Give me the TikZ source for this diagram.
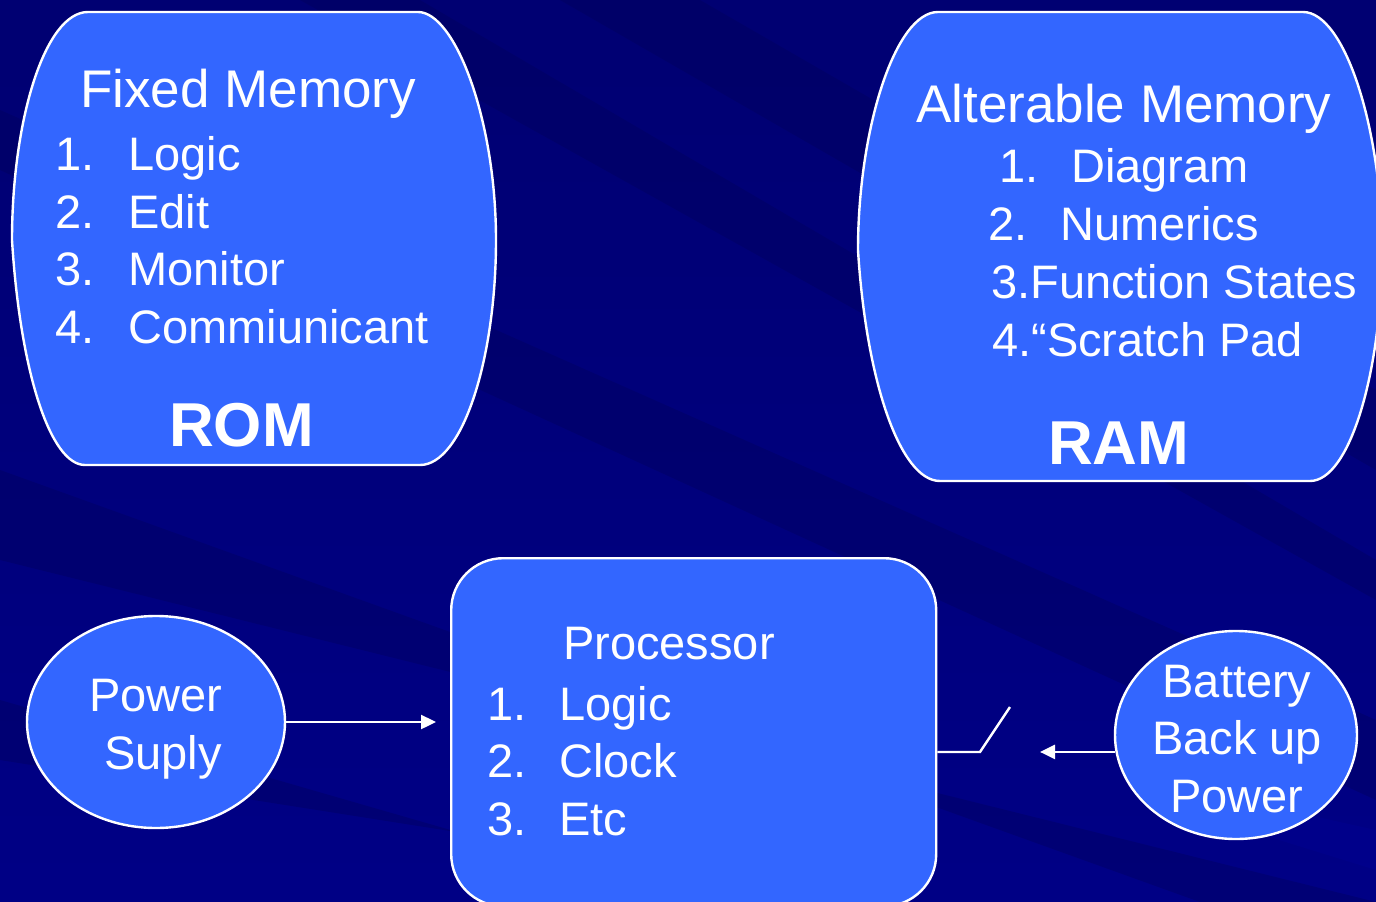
\documentclass[tikz,border=0pt]{standalone}
\usepackage{fontspec}
\setmainfont{Liberation Sans}
\usetikzlibrary{arrows.meta,shapes.geometric}
\definecolor{bgnavy}{RGB}{0,0,128}
\definecolor{bgdark}{RGB}{0,0,88}
\definecolor{bglight}{RGB}{0,0,145}
\definecolor{boxblue}{RGB}{51,102,255}
\tikzset{
  blob/.style={fill=boxblue,draw=white,line width=2.4pt},
  txt/.style={text=white,inner sep=0pt,font=\fontsize{47}{56}\selectfont},
  ttl/.style={text=white,inner sep=0pt,font=\fontsize{53}{60}\selectfont},
  big/.style={text=white,inner sep=0pt,font=\bfseries\fontsize{62}{70}\selectfont},
  wire/.style={draw=white,line width=2.4pt},
  arr/.style={wire,-{Triangle[length=15pt,width=14pt]}},
  band/.style={fill=bgdark,opacity=0.35},
}
\begin{document}
\begin{tikzpicture}[x=1pt,y=-1pt]
\useasboundingbox (0,0) rectangle (1376,902);
% background
\shade[left color=bgdark,right color=bglight,shading angle=0] (0,0) rectangle (1376,902);
\fill[bgnavy,opacity=0.65] (0,0) rectangle (1376,902);
\fill[band] (560,0) -- (700,0) -- (1376,390) -- (1376,470) -- cycle;
\fill[band] (0,110) -- (0,170) -- (1376,800) -- (1376,720) -- cycle;
\fill[band] (0,470) -- (0,560) -- (1376,902) -- (1200,902) -- cycle;
\fill[band] (0,700) -- (0,760) -- (900,902) -- (700,902) -- cycle;
\fill[band] (300,0) -- (420,0) -- (1376,560) -- (1376,600) -- cycle;
\fill[bglight,opacity=0.5] (1150,780) -- (1376,830) -- (1376,870) -- (1150,800) -- cycle;

% ROM shape
\draw[blob] (88,12) -- (418,12) .. controls (455,12) and (496,120) .. (496,240)
  .. controls (496,360) and (462,465) .. (420,465) -- (85,465)
  .. controls (50,465) and (20,370) .. (12,240)
  .. controls (12,120) and (45,12) .. (88,12) -- cycle;
\node[ttl,anchor=base west] (romt) at (80,107) {Fixed Memory};
\node[txt,anchor=base west] (romn1) at (55,170) {1.};
\node[txt,anchor=base west] (romi1) at (128,170) {Logic};
\node[txt,anchor=base west] (romn2) at (55,228) {2.};
\node[txt,anchor=base west] (romi2) at (128,228) {Edit};
\node[txt,anchor=base west] (romn3) at (55,285) {3.};
\node[txt,anchor=base west] (romi3) at (128,285) {Monitor};
\node[txt,anchor=base west] (romn4) at (55,343) {4.};
\node[txt,anchor=base west] (romi4) at (128,343) {Commiunicant};
\node[big,anchor=base west] (romlbl) at (169,446) {ROM};

% RAM shape
\draw[blob] (938,12) -- (1303,12) .. controls (1345,12) and (1382,130) .. (1382,250)
  .. controls (1382,370) and (1350,481) .. (1310,481) -- (940,481)
  .. controls (900,481) and (866,380) .. (858,250)
  .. controls (858,130) and (895,12) .. (938,12) -- cycle;
\node[ttl,anchor=base west] (ramt) at (916,122) {Alterable Memory};
\node[txt,anchor=base west] (ramn1) at (999,182) {1.};
\node[txt,anchor=base west] (rami1) at (1071,182) {Diagram};
\node[txt,anchor=base west] (ramn2) at (988,240) {2.};
\node[txt,anchor=base west] (rami2) at (1060,240) {Numerics};
\node[txt,anchor=base west] (rami3) at (991,298) {3.Function States};
\node[txt,anchor=base west] (rami4) at (992,356) {4.“Scratch Pad};
\node[big,anchor=base west] (ramlbl) at (1048,464) {RAM};

% Processor
\node[blob,rectangle,rounded corners=52pt,minimum width=485pt,minimum height=348pt,anchor=north west] (proc) at (450,557) {};
\node[txt,anchor=base west] (proct) at (563,659) {Processor};
\node[txt,anchor=base west] (procn1) at (487,720) {1.};
\node[txt,anchor=base west] (proci1) at (559,720) {Logic};
\node[txt,anchor=base west] (procn2) at (487,777) {2.};
\node[txt,anchor=base west] (proci2) at (559,777) {Clock};
\node[txt,anchor=base west] (procn3) at (487,835) {3.};
\node[txt,anchor=base west] (proci3) at (559,835) {Etc};

% Power supply
\node[blob,ellipse,minimum width=258pt,minimum height=212pt] (ps) at (156,722) {};
\node[txt,anchor=base] (pst1) at (156,711) {Power};
\node[txt,anchor=base] (pst2) at (163,769) {Suply};

% Battery
\node[blob,ellipse,minimum width=242pt,minimum height=208pt] (bat) at (1236,735) {};
\node[txt,anchor=base] (batt1) at (1237,697) {Battery};
\node[txt,anchor=base] (batt2) at (1237,754) {Back up};
\node[txt,anchor=base] (batt3) at (1237,812) {Power};

% connectors
\coordinate (ptip) at (436,722);
\draw[arr] (ps.east) -- (ptip);
\coordinate (btip) at (1040,752);
\draw[arr] (bat.188) -- (bat.188 -| btip);
\coordinate (sw1) at (980,752);
\coordinate (sw2) at (1010,707);
\draw[wire] (proc.east |- sw1) -- (sw1) -- (sw2);
\end{tikzpicture}
\end{document}
